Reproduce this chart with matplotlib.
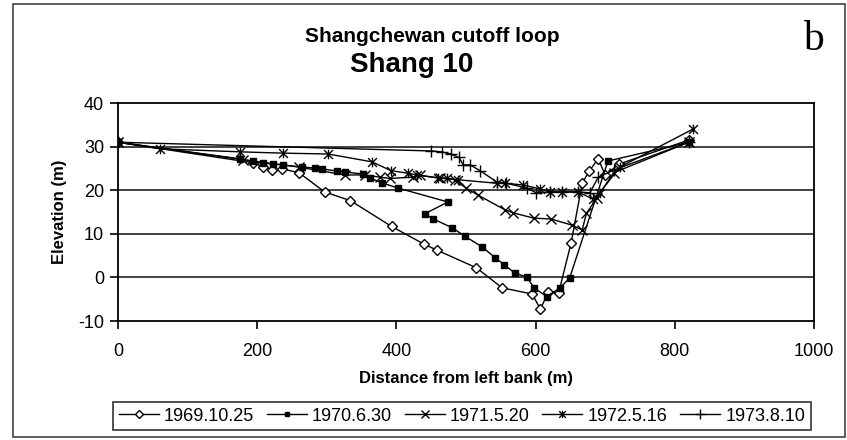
import matplotlib.pyplot as plt
import numpy as np
from matplotlib.path import Path
from matplotlib.patches import Rectangle

plt.rcParams["font.family"] = ["Liberation Sans", "DejaVu Sans"]
plt.rcParams["axes.unicode_minus"] = False

# survey dates (legend labels)
labels = ["1969.10.25", "1970.6.30", "1971.5.20", "1972.5.16", "1973.8.10"]

# distance from left bank (m) and elevation (m)
x_1969 = [0, 194, 208, 221, 236, 260, 297, 334, 393, 440, 459, 515, 552, 595, 607,
          618, 633, 651, 667, 677, 690, 700, 720, 820]
y_1969 = [31.0, 26.3, 25.4, 24.7, 24.9, 24.0, 19.6, 17.6, 11.7, 7.6, 6.2, 2.2, -2.4,
          -3.8, -7.3, -3.4, -3.6, 7.9, 21.6, 24.4, 27.2, 23.5, 26.0, 31.5]

x_1970 = [0, 175, 194, 208, 223, 237, 264, 283, 293, 314, 326, 352, 362, 379, 402,
          474, 441, 453, 480, 498, 523, 542, 555, 570, 587, 598, 616, 635, 649, 704, 820]
y_1970 = [31.0, 27.2, 26.6, 26.2, 26.0, 25.8, 25.3, 25.1, 24.9, 24.4, 24.2, 23.7,
          22.8, 21.7, 20.5, 17.3, 14.6, 13.4, 11.4, 9.5, 7.0, 4.5, 2.9, 1.0, 0.1,
          -2.4, -4.4, -2.4, -0.1, 26.7, 31.0]

x_1971 = [0, 180, 260, 326, 355, 376, 391, 424, 434, 462, 484, 500, 517, 556, 568,
          597, 622, 652, 667, 673, 688, 712, 820]
y_1971 = [31.0, 27.0, 25.3, 23.5, 23.5, 23.0, 22.7, 23.0, 23.4, 22.8, 22.4, 20.5,
          18.9, 15.5, 14.8, 13.6, 13.4, 12.0, 10.9, 14.7, 18.2, 24.0, 31.0]

x_1972 = [0, 60, 175, 237, 302, 365, 392, 416, 429, 460, 472, 488, 544, 556, 582,
          606, 621, 638, 661, 682, 692, 721, 826]
y_1972 = [31.0, 29.5, 28.8, 28.5, 28.3, 26.5, 24.5, 23.9, 23.5, 22.8, 22.8, 22.4,
          21.6, 21.6, 21.2, 20.3, 19.6, 19.6, 19.6, 18.0, 19.4, 25.3, 34.0]

x_1973 = [0, 450, 465, 478, 490, 496, 506, 520, 544, 558, 587, 601, 620, 638, 661,
          678, 690, 712, 820]
y_1973 = [31.0, 29.0, 28.8, 28.3, 27.5, 25.8, 25.8, 24.5, 21.9, 21.6, 20.5, 19.4,
          19.6, 19.6, 19.6, 19.4, 23.0, 24.6, 31.0]

xs = [x_1969, x_1970, x_1971, x_1972, x_1973]
ys = [y_1969, y_1970, y_1971, y_1972, y_1973]

# asterisk marker: x plus a vertical stroke
star_path = Path(
    [(-1, -1), (1, 1), (-1, 1), (1, -1), (0, -1.1), (0, 1.1)],
    [Path.MOVETO, Path.LINETO, Path.MOVETO, Path.LINETO, Path.MOVETO, Path.LINETO],
)

styles = [
    dict(marker="D", ms=5, mfc="white", mec="black", mew=1.0),
    dict(marker="s", ms=4, mfc="black", mec="black", mew=1.0),
    dict(marker="x", ms=7, mec="black", mew=1.0),
    dict(marker=star_path, ms=7, mec="black", mew=1.0),
    dict(marker="+", ms=9, mec="black", mew=1.0),
]

fig = plt.figure(figsize=(8.47, 4.40), dpi=100)
ax = fig.add_axes([118 / 847, 1 - 321 / 440, (814 - 118) / 847, (321 - 103) / 440])

for x, y, lab, st in zip(xs, ys, labels, styles):
    ax.plot(x, y, color="black", lw=1.0, label=lab, **st)

ax.set_xlim(0, 1000)
ax.set_ylim(-10, 40)
ax.set_xticks(np.arange(0, 1001, 200))
ax.set_yticks(np.arange(-10, 41, 10))
for v in [0, 10, 20, 30]:
    ax.axhline(v, color="#333333", lw=1.3, zorder=0)
for s in ax.spines.values():
    s.set_linewidth(1.3)
ax.tick_params(direction="out", length=6, width=1.2, labelsize=13, colors="black")
ax.tick_params(axis="y", pad=4)
ax.tick_params(axis="x", pad=10)

ax.set_xlabel("Distance from left bank (m)", fontsize=12, fontweight="bold", labelpad=8)
ax.set_ylabel("Elevation (m)", fontsize=12, fontweight="bold", labelpad=8)

fig.text(432 / 847, 1 - 37 / 440, "Shangchewan cutoff loop", ha="center", va="center",
         fontsize=15, fontweight="bold")
fig.text(412 / 847, 1 - 65 / 440, "Shang 10", ha="center", va="center",
         fontsize=20, fontweight="bold")
fig.text(813 / 847, 1 - 40 / 440, "b", ha="center", va="center", fontsize=30,
         family=["Liberation Serif", "DejaVu Serif"])

leg = fig.legend(loc="center", bbox_to_anchor=(462 / 847, 1 - 416 / 440), ncol=5,
                 fontsize=13, frameon=True, fancybox=False, edgecolor="black",
                 handlelength=2.2, handletextpad=0.3, columnspacing=0.7,
                 borderpad=0.3, borderaxespad=0, markerscale=0.75)
leg.get_frame().set_linewidth(1.2)

fig.patches.append(Rectangle((13 / 847, 3 / 440), 832 / 847, 433 / 440,
                             transform=fig.transFigure, fill=False,
                             edgecolor="#444444", lw=1.2))

fig.savefig("out.png", dpi=100)
